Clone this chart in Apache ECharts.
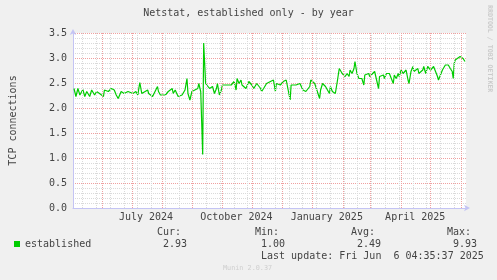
<!DOCTYPE html>
<html><head><meta charset="utf-8">
<script src="https://cdn.jsdelivr.net/npm/echarts@6/dist/echarts.min.js"></script>
<style>html,body{margin:0;padding:0;background:#f0f0f0}#c{width:497px;height:280px}</style>
</head><body><div id="c"></div>
<script>
// ---- data ----
const titleText = 'Netstat, established only - by year';
const yAxisName = 'TCP connections';
const seriesName = 'established';
const startTime = '2024-05-02T04:35:37Z';
const endTime = '2025-06-06T04:35:37Z';
// days since startTime
const dayOffsets = [1,3,5,7,10,12,14,17,19,22,24,27,31,32,36,39,42,44,46,49,52,56,57,61,64,66,67,68,70,72,76,77,81,82,86,87,89,91,94,97,101,102,104,107,111,114,116,117,119,121,122,124,127,128,130,132,133,135,137,139,141,142,144,146,147,149,151,152,154,156,157,161,164,166,167,169,171,172,174,176,179,182,184,
187,191,192,194,197,201,204,206,207,211,214,217,219,221,222,224,227,229,231,234,236,237,241,242,246,247,251,252,254,257,259,261,262,264,267,269,271,274,276,277,279,281,282,284,286,287,289,291,292,294,296,297,299,301,302,304,307,309,311,312,314,316,317,319,321,322,324,326,327,329,331,332,334,336,337,339,341,342,344,346,347,349,351,352,354,356,357,359,361,362,364,366,367,369,371,372,374,376,377,379,381,382,384,386,387,388,389,391,394,396,397,399];
const established = [2.39,2.23,2.39,2.26,2.37,2.23,2.33,2.23,2.36,2.26,2.33,2.29,2.23,2.36,2.33,2.39,2.36,2.26,2.19,2.33,2.29,2.33,2.36,2.29,2.33,2.26,2.39,2.51,2.29,2.26,2.36,2.29,2.23,2.19,2.43,2.33,2.26,2.23,2.26,2.33,2.39,2.29,2.36,2.23,2.26,2.36,2.59,2.29,2.16,2.33,2.29,2.36,2.39,2.49,2.33,1.07,3.30,2.49,2.46,2.39,2.36,2.43,2.29,2.39,2.49,2.26,2.36,2.46,2.49,2.46,2.49,2.46,2.53,2.36,2.59,2.49,2.56,2.46,2.49,2.39,2.53,2.46,2.39,
2.49,2.39,2.33,2.39,2.49,2.53,2.56,2.33,2.49,2.46,2.53,2.56,2.36,2.16,2.46,2.49,2.46,2.43,2.49,2.36,2.39,2.33,2.43,2.56,2.49,2.46,2.19,2.36,2.49,2.43,2.39,2.29,2.43,2.33,2.29,2.53,2.79,2.69,2.73,2.63,2.69,2.63,2.76,2.69,2.79,2.93,2.69,2.59,2.56,2.59,2.46,2.66,2.63,2.69,2.63,2.66,2.73,2.56,2.39,2.63,2.59,2.66,2.59,2.69,2.66,2.69,2.59,2.49,2.66,2.59,2.69,2.63,2.76,2.69,2.66,2.76,2.56,2.49,2.73,2.83,2.73,2.69,2.79,2.69,2.66,2.76,2.83,2.69,2.83,2.79,2.76,2.76,2.83,2.86,2.63,2.56,2.66,2.76,2.79,2.86,2.89,2.86,2.79,2.73,2.59,2.89,2.96,2.99,3.03,3.06,2.99,2.93];
const yMin = 0, yMax = 3.5, yStep = 0.5;
const xLabelDates = ['2024-07-15T12:00:00Z','2024-10-15T12:00:00Z','2025-01-15T12:00:00Z','2025-04-15T12:00:00Z'];
const xLabelTexts = ['July 2024','October 2024','January 2025','April 2025'];
const statNames = ['Cur:','Min:','Avg:','Max:'];
const statValues = ['2.93','1.00','2.49','9.93'];
const lastUpdate = 'Last update: Fri Jun  6 04:35:37 2025';
const footer = 'Munin 2.0.37';
const watermark = 'RRDTOOL / TOBI OETIKER';

// ---- build ----
const DAY = 86400000;
const t0 = Date.parse(startTime), t1 = Date.parse(endTime);
const lineData = dayOffsets.map((d, i) => [t0 + d * DAY, established[i]]);
const monthStarts = [];
for (let y = 2024, m = 4; ; m++) {
  const t = Date.UTC(y + Math.floor(m / 12), m % 12, 1);
  if (t > t1) break;
  if (t > t0) monthStarts.push(t);
}
const weekLines = [];
for (let t = Date.UTC(2024, 4, 12); t < t1; t += 14 * DAY) weekLines.push(t);
const labelTs = xLabelDates.map(s => Date.parse(s));

const FONT = 'DejaVu Sans Mono';
const TXT = '#444';
const AXIS = '#c4c4f4';
const MAJ = '#f0a0a0';
const MIN = '#dadada';

const chart = echarts.init(document.getElementById('c'), null, {renderer: 'canvas'});
const statX = [157, 255, 351, 447];
const g = [];
statNames.forEach((s, i) => {
  g.push({type: 'text', left: statX[i], top: 227, style: {text: s, font: '10px ' + FONT, fill: TXT}});
  g.push({type: 'text', left: statX[i] + 6, top: 239, style: {text: statValues[i], font: '10px ' + FONT, fill: TXT}});
});
g.push({type: 'text', left: 261, top: 251, style: {text: lastUpdate, font: '10px ' + FONT, fill: TXT}});
g.push({type: 'text', left: 223, top: 265, style: {text: footer, font: '6.8px ' + FONT, fill: '#cfcfcf'}});
g.push({type: 'text', x: 486.5, y: 5, rotation: -Math.PI / 2,
  style: {text: watermark, font: 'bold 6.6px ' + FONT, fill: '#cccccc', textAlign: 'left', textVerticalAlign: 'bottom'}});

chart.setOption({
  animation: false,
  backgroundColor: '#f0f0f0',
  title: {text: titleText, left: 'center', top: 3,
    textStyle: {fontFamily: FONT, fontSize: 10, fontWeight: 'normal', color: TXT}},
  legend: {data: [seriesName], left: 14, top: 239, padding: 0, icon: 'rect', itemWidth: 6, itemHeight: 6,
    textStyle: {fontFamily: FONT, fontSize: 10, color: TXT}},
  grid: {left: 66, top: 33, width: 400, height: 175, show: true, backgroundColor: '#ffffff', borderWidth: 0, containLabel: false},
  xAxis: [
    {type: 'time', min: t0, max: t1,
      axisLine: {show: true, lineStyle: {color: AXIS, width: 1}, symbol: ['none', 'arrow'], symbolSize: [5, 6], symbolOffset: [0, 4]},
      axisTick: {show: false}, axisLabel: {show: false}, splitLine: {show: false}},
    {type: 'value', min: t0, max: t1, position: 'bottom',
      axisLine: {show: false}, axisTick: {show: false}, splitLine: {show: false},
      axisLabel: {customValues: labelTs, margin: 4, fontFamily: FONT, fontSize: 10, color: TXT,
        formatter: v => { const i = labelTs.indexOf(v); return i >= 0 ? xLabelTexts[i] : ''; }}}
  ],
  yAxis: {type: 'value', min: yMin, max: yMax, interval: yStep,
    name: yAxisName, nameLocation: 'middle', nameGap: 55, nameRotate: 90,
    nameTextStyle: {fontFamily: FONT, fontSize: 10, color: TXT},
    axisLine: {show: true, lineStyle: {color: AXIS, width: 1}, symbol: ['none', 'arrow'], symbolSize: [5, 6], symbolOffset: [0, 4]},
    axisTick: {show: false},
    axisLabel: {margin: 6, fontFamily: FONT, fontSize: 10, color: TXT, formatter: v => v.toFixed(1)},
    splitLine: {show: true, lineStyle: {color: MAJ, type: [1, 1], width: 1}},
    minorTick: {show: false, splitNumber: 5},
    minorSplitLine: {show: true, lineStyle: {color: MIN, type: [1, 1], width: 1}}},
  series: [
    {type: 'line', name: 'grid-week', data: [], silent: true, z: 1,
      markLine: {silent: true, symbol: 'none', animation: false, label: {show: false},
        lineStyle: {color: MIN, type: [1, 1], width: 1},
        data: weekLines.map(t => ({xAxis: t}))}},
    {type: 'line', name: 'grid-month', data: [], silent: true, z: 1,
      markLine: {silent: true, symbol: 'none', animation: false, label: {show: false},
        lineStyle: {color: MAJ, type: [1, 1], width: 1},
        data: monthStarts.map(t => ({xAxis: t}))}},
    {type: 'line', name: seriesName, data: lineData, showSymbol: false, z: 3,
      itemStyle: {color: '#00cc00'}, lineStyle: {color: '#00cc00', width: 1.2}}
  ],
  graphic: g
});
</script></body></html>
